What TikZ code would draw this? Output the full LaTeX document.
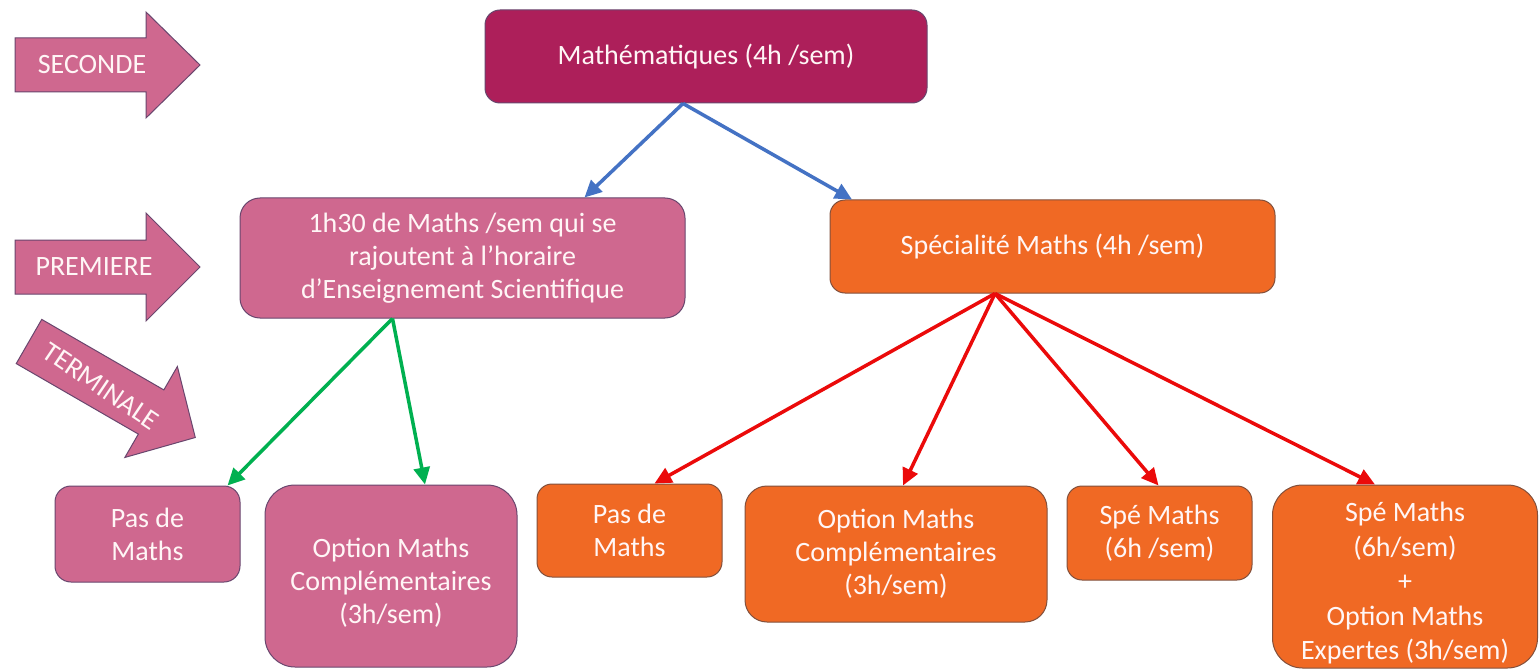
\documentclass[tikz,border=0pt]{standalone}
\usepackage{fontspec}
\setmainfont{Carlito}
\usetikzlibrary{arrows.meta}
\definecolor{topc}{RGB}{173,31,90}
\definecolor{pinkc}{RGB}{207,104,143}
\definecolor{orc}{RGB}{240,105,36}
\definecolor{pinkb}{RGB}{105,70,110}
\definecolor{orb}{RGB}{130,80,60}
\definecolor{bluec}{RGB}{68,114,196}
\definecolor{greenc}{RGB}{0,176,80}
\definecolor{redc}{RGB}{235,10,10}
\definecolor{txtc}{RGB}{255,246,246}
\tikzset{
 box/.style={draw, line width=1pt, align=center, text=txtc, inner sep=0pt, font=\fontsize{28}{33}\selectfont},
 topbox/.style={box, fill=topc, draw=pinkb},
 pinkbox/.style={box, fill=pinkc, draw=pinkb},
 orbox/.style={box, fill=orc, draw=orb},
 conn/.style={line width=3.5pt, -{Triangle[length=17pt,width=16pt]}},
 bigarrow/.style={fill=pinkc, draw=pinkb, line width=1pt, line join=miter},
 arrowtext/.style={text=txtc, font=\fontsize{28}{33}\selectfont, inner sep=0pt},
}
\begin{document}
\begin{tikzpicture}[x=1pt,y=-1pt]
\useasboundingbox (0,0) rectangle (1539,671);
\fill[white] (0,0) rectangle (1539,671);

% level arrows
\draw[bigarrow] (15,38) -- (146,38) -- (146,12) -- (200,65) -- (146,118) -- (146,92) -- (15,92) -- cycle;
\node[arrowtext] (seconde) at (92,65) {SECONDE};
\draw[bigarrow] (15,240) -- (146,240) -- (146,213) -- (200,267) -- (146,321) -- (146,294) -- (15,294) -- cycle;
\node[arrowtext] (premiere) at (94,267) {PREMIERE};
\begin{scope}[shift={(29,341.5)}, rotate=-30]
\draw[bigarrow] (0,-25.5) -- (141,-25.5) -- (141,-52.5) -- (192,0) -- (141,52.5) -- (141,25.5) -- (0,25.5) -- cycle;
\end{scope}
\node[arrowtext, rotate=-34] (terminale) at (101,386) {TERMINALE};

% boxes
\node[topbox, minimum width=442pt, minimum height=93pt, rounded corners=15pt] (math) at (706,56.5) {Mathématiques (4h /sem)};
\node[pinkbox, minimum width=445pt, minimum height=120pt, rounded corners=20pt] (prem) at (462.5,258) {1h30 de Maths /sem qui se\\rajoutent à l’horaire\\d’Enseignement Scientifique};
\node[orbox, minimum width=445pt, minimum height=93pt, rounded corners=15pt] (spec) at (1052.5,246.5) {Spécialité Maths (4h /sem)};

\node[pinkbox, minimum width=185pt, minimum height=96pt, rounded corners=16pt] (pas1) at (147.5,534) {Pas de\\Maths};
\node[pinkbox, minimum width=252pt, minimum height=182pt, rounded corners=30pt] (opt1) at (391,576) {\rule{0pt}{33pt}Option Maths\\Complémentaires\\(3h/sem)};
\node[orbox, minimum width=185pt, minimum height=93pt, rounded corners=15pt] (pas2) at (629.5,530.5) {Pas de\\Maths};
\node[orbox, minimum width=302pt, minimum height=136pt, rounded corners=22pt] (opt2) at (896,554) {Option Maths\\Complémentaires\\(3h/sem)};
\node[orbox, minimum width=185pt, minimum height=94pt, rounded corners=15pt] (spe6) at (1159.5,533) {Spé Maths\\(6h /sem)};
\node[orbox, minimum width=265pt, minimum height=183pt, rounded corners=30pt, font=\fontsize{28}{34.5}\selectfont] (expt) at (1405,576.5) {\rule{0pt}{33pt}Spé Maths\\(6h/sem)\\+\\Option Maths\\Expertes (3h/sem)};

% connectors
\draw[conn, bluec] ([xshift=-23pt]math.south) -- ([xshift=122pt]prem.north);
\draw[conn, bluec] ([xshift=-23pt]math.south) -- ([xshift=-200.5pt]spec.north);
\draw[conn, greenc] ([xshift=-70pt]prem.south) -- ([xshift=80pt]pas1.north);
\draw[conn, greenc] ([xshift=-70pt]prem.south) -- ([xshift=34pt]opt1.north);
\draw[conn, redc] ([xshift=-57.5pt]spec.south) -- ([xshift=25pt]pas2.north);
\draw[conn, redc] ([xshift=-57.5pt]spec.south) -- ([xshift=7pt]opt2.north);
\draw[conn, redc] ([xshift=-57.5pt]spec.south) -- ([xshift=-1pt]spe6.north);
\draw[conn, redc] ([xshift=-57.5pt]spec.south) -- ([xshift=-30pt]expt.north);
\end{tikzpicture}
\end{document}
